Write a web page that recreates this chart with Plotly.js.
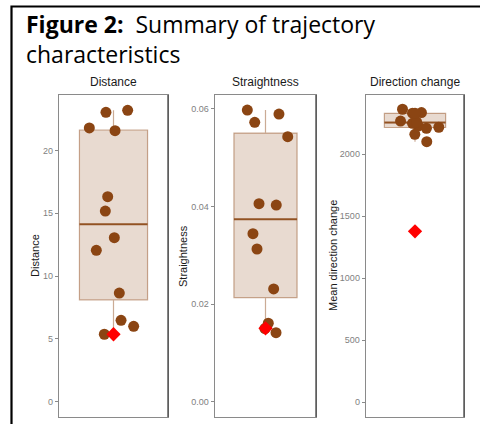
<!DOCTYPE html>
<html>
<head>
<meta charset="utf-8">
<script src="https://cdn.plot.ly/plotly-3.0.1.min.js"></script>
<style>
  html, body { margin: 0; padding: 0; background: #fff; }
  #chart { width: 480px; height: 424px; }
</style>
</head>
<body>
<div id="chart"></div>
<script>
// Per-individual trajectory metrics (brown points) with jittered x positions
const distanceValues = [23.04, 23.2, 21.8, 21.58, 16.32, 15.18, 13.06, 12.05, 8.65, 6.48, 6.0, 5.37];
const distanceJitter = [0.917, 1.156, 0.734, 1.017, 0.936, 0.910, 1.009, 0.811, 1.064, 1.083, 1.222, 0.899];
const distanceHighlight = 5.37;

const straightnessValues = [0.05977, 0.05895, 0.05725, 0.0543, 0.04057, 0.0403, 0.03443, 0.03129, 0.0231, 0.01607, 0.01414, 0.0150];
const straightnessJitter = [0.784, 1.160, 0.872, 1.264, 0.923, 1.128, 0.851, 0.899, 1.097, 1.033, 1.125, 0.994];
const straightnessHighlight = 0.01504;

const directionValues = [2363, 2331, 2336, 2268, 2228, 2210, 2218, 2161, 2102, 2250, 2262, 2330];
const directionJitter = [0.847, 0.969, 1.079, 0.823, 1.038, 1.140, 1.291, 0.998, 1.144, 0.969, 1.02, 1.0];
const directionHighlight = 1379;

// Panel titles, y-axis titles and tick labels
const panelTitles = ["Distance", "Straightness", "Direction change"];
const axisTitles = ["Distance", "Straightness", "Mean direction change"];
const distanceTicks = [0, 5, 10, 15, 20];
const distanceTickText = ["0", "5", "10", "15", "20"];
const straightnessTicks = [0, 0.02, 0.04, 0.06];
const straightnessTickText = ["0.00", "0.02", "0.04", "0.06"];
const directionTicks = [0, 500, 1000, 1500, 2000];
const directionTickText = ["0", "500", "1000", "1500", "2000"];

const W = 480, H = 424;
const BROWN = "#8B4513";
const BOX_W = 0.75;

// Quantile (linear interpolation between order statistics)
function quantile(arr, p) {
  const s = [...arr].sort((a, b) => a - b);
  const h = (s.length - 1) * p;
  const lo = Math.floor(h);
  const hi = Math.min(lo + 1, s.length - 1);
  return s[lo] + (h - lo) * (s[hi] - s[lo]);
}
function boxStats(arr) {
  const q1 = quantile(arr, 0.25), med = quantile(arr, 0.5), q3 = quantile(arr, 0.75);
  const iqr = q3 - q1;
  const lo = Math.min(...arr.filter(v => v >= q1 - 1.5 * iqr));
  const hi = Math.max(...arr.filter(v => v <= q3 + 1.5 * iqr));
  return { q1, med, q3, lo, hi };
}

function panelTraces(values, jitter, highlight, xa, ya) {
  const st = boxStats(values);
  return [
    {
      type: "box", x: [1], q1: [st.q1], median: [st.med], q3: [st.q3],
      lowerfence: [st.lo], upperfence: [st.hi], width: BOX_W, whiskerwidth: 0,
      boxpoints: false, fillcolor: "rgba(139,69,19,0.2)",
      line: { color: "rgba(139,69,19,0.45)", width: 1.2 },
      xaxis: xa, yaxis: ya, hoverinfo: "skip"
    },
    {
      type: "scatter", mode: "lines",
      x: [1 - BOX_W / 2, 1 + BOX_W / 2], y: [st.med, st.med],
      line: { color: "rgba(139,69,19,0.85)", width: 2 },
      xaxis: xa, yaxis: ya, hoverinfo: "skip"
    },
    {
      type: "scatter", mode: "markers", x: jitter, y: values,
      marker: { color: BROWN, size: 11, line: { width: 0 } },
      xaxis: xa, yaxis: ya
    },
    {
      type: "scatter", mode: "markers", x: [1], y: [highlight],
      marker: { color: "#FF0000", symbol: "diamond", size: 11, line: { width: 0 } },
      xaxis: xa, yaxis: ya
    }
  ];
}

const traces = [
  ...panelTraces(distanceValues, distanceJitter, distanceHighlight, "x", "y"),
  ...panelTraces(straightnessValues, straightnessJitter, straightnessHighlight, "x2", "y2"),
  ...panelTraces(directionValues, directionJitter, directionHighlight, "x3", "y3")
];

// Panel placement in pixels
const panelsX = [[59, 168], [215, 316], [366, 464]];
const panelTop = 95, panelBottom = 417;
const yDomain = [(H - panelBottom) / H, (H - panelTop) / H];

function xAxis(i) {
  return {
    domain: [panelsX[i][0] / W, panelsX[i][1] / W], range: [0.4, 1.6],
    showticklabels: false, ticks: "", showgrid: false, zeroline: false,
    showline: true, mirror: true, linecolor: "#8a8a8a", linewidth: 1.3,
    anchor: i === 0 ? "y" : "y" + (i + 1), fixedrange: true
  };
}
function yAxis(i, range, tickvals, ticktext) {
  return {
    domain: yDomain, range, tickvals, ticktext,
    ticks: "outside", ticklen: 3, tickcolor: "#8a8a8a", tickwidth: 1,
    tickfont: { family: "Liberation Sans, Arial, sans-serif", size: 9, color: "#7f7f7f" },
    showgrid: false, zeroline: false,
    showline: true, mirror: true, linecolor: "#8a8a8a", linewidth: 1.3,
    anchor: i === 0 ? "x" : "x" + (i + 1), fixedrange: true
  };
}

const annotations = [
  {
    text: "<b>Figure 2:</b>  Summary of trajectory", xref: "paper", yref: "paper",
    x: 24 / W, y: 1 - 24 / H, xanchor: "left", yanchor: "middle", showarrow: false,
    font: { family: "Open Sans, sans-serif", size: 23, color: "#000" }
  },
  {
    text: "characteristics", xref: "paper", yref: "paper",
    x: 24 / W, y: 1 - 54 / H, xanchor: "left", yanchor: "middle", showarrow: false,
    font: { family: "Open Sans, sans-serif", size: 23, color: "#000" }
  }
];
const axisTitleX = [35, 183, 333];
panelTitles.forEach((t, i) => {
  annotations.push({
    text: t, xref: "paper", yref: "paper",
    x: (panelsX[i][0] + panelsX[i][1]) / 2 / W, y: 1 - 82 / H,
    xanchor: "center", yanchor: "middle", showarrow: false,
    font: { family: "Liberation Sans, Arial, sans-serif", size: 12, color: "#1a1a1a" }
  });
  annotations.push({
    text: axisTitles[i], xref: "paper", yref: "paper",
    x: axisTitleX[i] / W, y: 1 - (panelTop + panelBottom) / 2 / H,
    xanchor: "center", yanchor: "middle", textangle: -90, showarrow: false,
    font: { family: "Liberation Sans, Arial, sans-serif", size: 11, color: "#1a1a1a" }
  });
});

// Figure frame (left and top rules) and darker right edge of each panel
const shapes = [
  {
    type: "path", xref: "paper", yref: "paper",
    path: `M ${11.5 / W} -0.01 L ${11.5 / W} ${1 - 6.5 / H} L 1.01 ${1 - 6.5 / H}`,
    line: { color: "#000", width: 2.2 }
  }
];
["x", "x2", "x3"].forEach((xa, i) => {
  shapes.push({
    type: "line", xref: xa + " domain", yref: "paper",
    x0: 1, x1: 1, y0: yDomain[0], y1: yDomain[1],
    line: { color: "#444", width: 1.3 }
  });
});

const layout = {
  width: W, height: H, margin: { l: 0, r: 0, t: 0, b: 0 },
  paper_bgcolor: "#fff", plot_bgcolor: "#fff", showlegend: false,
  xaxis: xAxis(0), xaxis2: xAxis(1), xaxis3: xAxis(2),
  yaxis: yAxis(0, [-1.22, 24.42], distanceTicks, distanceTickText),
  yaxis2: yAxis(1, [-0.00314, 0.06285], straightnessTicks, straightnessTickText),
  yaxis3: yAxis(2, [-118.5, 2478], directionTicks, directionTickText),
  annotations, shapes
};

Plotly.newPlot("chart", traces, layout, { displayModeBar: false, staticPlot: true });
</script>
</body>
</html>
